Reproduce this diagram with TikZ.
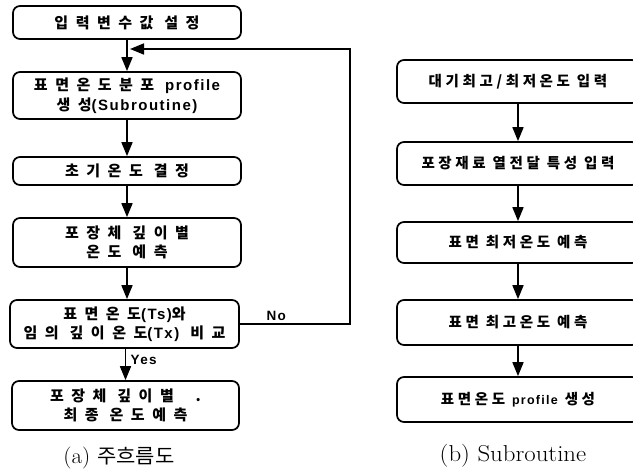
\documentclass[tikz,border=0pt]{standalone}
\usepackage{fontspec}
\usetikzlibrary{arrows.meta}
\newfontfamily\krwide[LetterSpace=50]{Noto Sans CJK KR}
\newfontfamily\krsub[LetterSpace=25]{Noto Sans CJK KR}
\newfontfamily\krcap{Noto Sans CJK KR}
\newfontfamily\en[LetterSpace=10]{Liberation Sans}
\newcommand{\lat}[1]{{\en\bfseries #1}}

\begin{document}
\begin{tikzpicture}[x=1pt,y=-1pt,
  mainbox/.style={draw,line width=1.7pt,rounded corners=7pt,align=center,
    inner sep=0pt,minimum width=228pt,font=\krwide\bfseries\fontsize{15}{19.5}\selectfont},
  subbox/.style={draw,line width=1.7pt,rounded corners=7pt,align=center,
    inner sep=0pt,minimum width=242pt,font=\krsub\bfseries\fontsize{14.5}{17}\selectfont},
  flow/.style={line width=1.7pt,-{Triangle[width=11pt,length=14pt]}}]
\useasboundingbox (0,0) rectangle (633,473);
\clip (0,0) rectangle (633,473);

% main flow
\node[mainbox,minimum height=33pt] (input) at (127,22.5) {입력변수값 설정};
\node[mainbox,minimum height=47pt] (profile) at (127,95.5)
  {표면온도분포 \lat{profile}\\생성\lat{(Subroutine)}};
\node[mainbox,minimum height=28pt] (init) at (127,171) {초기온도 결정};
\node[mainbox,minimum height=49pt] (depth) at (127,242.5) {포장체 깊이별\\온도 예측};
\node[mainbox,minimum height=48pt,minimum width=229pt] (compare) at (124.5,324)
  {표면온도\lat{(Ts)}와\\임의 깊이온도\lat{(Tx)} 비교};
\node[mainbox,minimum height=49pt,minimum width=227pt] (final) at (125.5,405.5)
  {포장체 깊이별 \ .\\최종 온도예측};

\draw[flow] (input) -- (profile);
\draw[flow] (profile) -- (init);
\draw[flow] (init) -- (depth);
\draw[flow] (depth.south) -- (depth.south |- compare.north);
\draw[flow] (compare.south -| final.north) -- (final.north)
  node[pos=0.35,right=1pt,font=\en\bfseries\fontsize{13.5}{15}\selectfont] {Yes};

% loop back
\coordinate (back) at (130,49);
\draw[flow] (compare.east) -- (350,324)
  node[pos=0.33,above=-1pt,font=\en\bfseries\fontsize{13.5}{15}\selectfont] {No}
  -- (350,49) -- (back);

% subroutine
\node[subbox,minimum height=43pt] (air) at (518,81.5) {대기최고/최저온도 입력};
\node[subbox,minimum height=43pt] (mat) at (518,163.5) {포장재료 열전달 특성 입력};
\node[subbox,minimum height=41pt] (tmin) at (518,242.5) {표면 최저온도 예측};
\node[subbox,minimum height=45pt] (tmax) at (518,322.5) {표면 최고온도 예측};
\node[subbox,minimum height=45pt] (surf) at (518,399.5)
  {표면온도 {\en\bfseries\fontsize{12.5}{14}\selectfont profile} 생성};

\draw[flow] (air) -- (mat);
\draw[flow] (mat) -- (tmin);
\draw[flow] (tmin) -- (tmax);
\draw[flow] (tmax) -- (surf);

% captions
\node[font=\fontsize{22}{26}\selectfont,xscale=1.05] (capa) at (119,458) {(a) {\krcap\fontsize{20}{24}\selectfont 주흐름도}};
\node[font=\fontsize{23}{26}\selectfont,xscale=1.08] (capb) at (513,456) {(b) Subroutine};

\end{tikzpicture}
\end{document}
